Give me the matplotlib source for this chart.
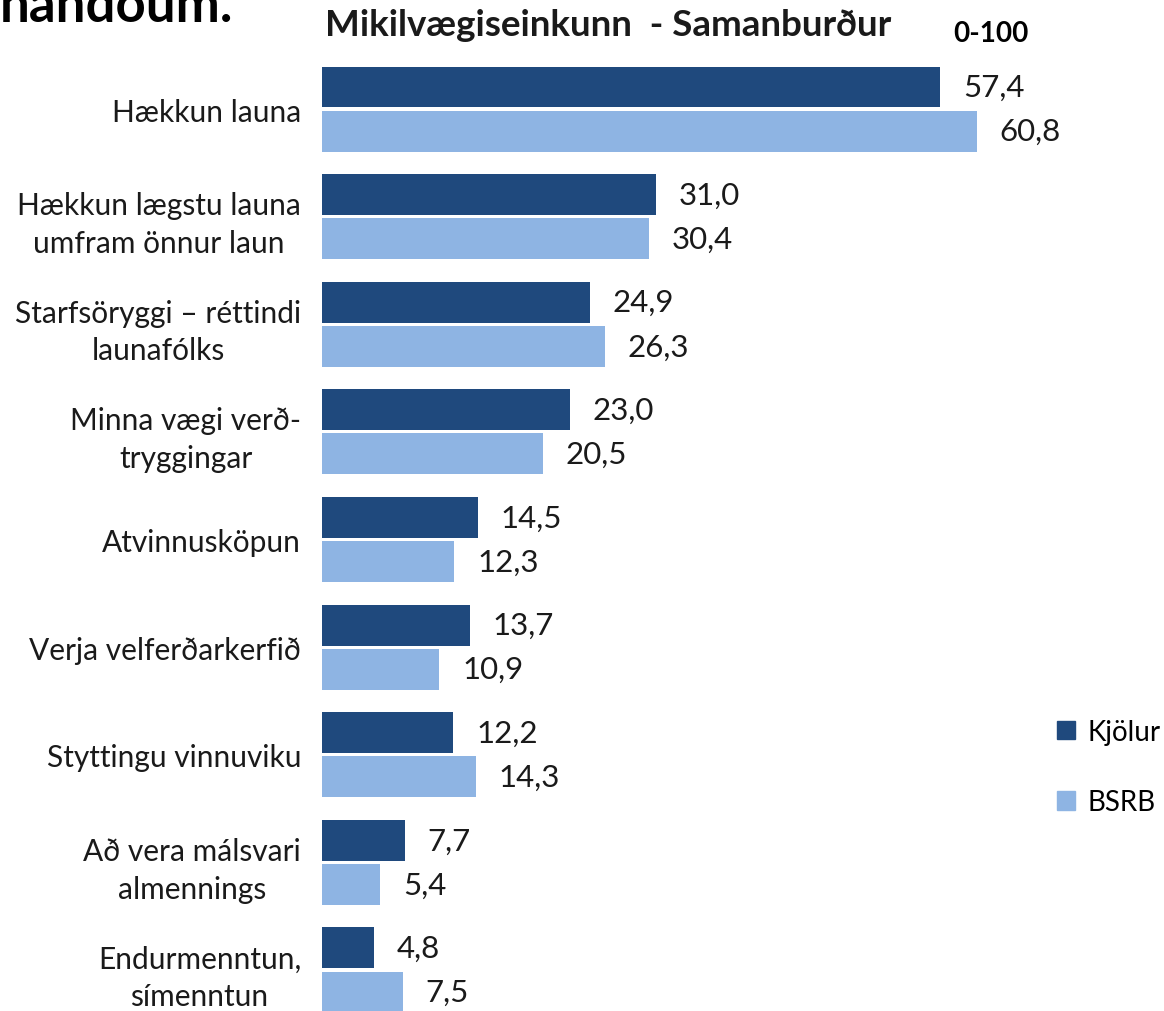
import matplotlib.pyplot as plt
from matplotlib.patches import Patch

# categories and values (0-100 scale)
categories = [
    'Hækkun launa',
    'Hækkun lægstu launa\numfram önnur laun',
    'Starfsöryggi – réttindi\nlaunafólks',
    'Minna vægi verð-\ntryggingar',
    'Atvinnusköpun',
    'Verja velferðarkerfið',
    'Styttingu vinnuviku',
    'Að vera málsvari\nalmennings',
    'Endurmenntun,\nsímenntun',
]
kjolur = [57.4, 31.0, 24.9, 23.0, 14.5, 13.7, 12.2, 7.7, 4.8]
bsrb = [60.8, 30.4, 26.3, 20.5, 12.3, 10.9, 14.3, 5.4, 7.5]
series_names = ['Kjölur', 'BSRB']
colors = ['#1f497d', '#8eb4e3']

plt.rcParams['font.family'] = ['Lato', 'DejaVu Sans']

fig = plt.figure(figsize=(11.64, 10.12), dpi=100)
ax = fig.add_axes([322 / 1164, 0, 842 / 1164, 1])

ypos = list(range(len(categories)))
off = 0.205
h = 0.38
ax.barh([y - off for y in ypos], kjolur, height=h, color=colors[0])
ax.barh([y + off for y in ypos], bsrb, height=h, color=colors[1])

for y, v in zip(ypos, kjolur):
    ax.text(v + 2.1, y - off, f'{v:.1f}'.replace('.', ','), va='center',
            ha='left', fontsize=22.5, color='#1a1a1a')
for y, v in zip(ypos, bsrb):
    ax.text(v + 2.1, y + off, f'{v:.1f}'.replace('.', ','), va='center',
            ha='left', fontsize=22.5, color='#1a1a1a')

ax.set_xlim(0, 842 / 10.77)
ax.set_ylim(8 + 41 / 107.6, -110 / 107.6)
ax.set_yticks(ypos)
ax.set_yticklabels(categories, fontsize=21.5, color='#1a1a1a',
                   multialignment='center', linespacing=1.42)
ax.tick_params(axis='y', length=0, pad=15)
ax.set_xticks([])
for s in ax.spines.values():
    s.set_visible(False)

# title and top texts
fig.text(325 / 1164, 1 - 36 / 1012, 'Mikilvægiseinkunn  - Samanburður',
         fontsize=26.5, fontweight='bold', color='#1a1a1a', va='baseline')
fig.text(953 / 1164, 1 - 42 / 1012, '0-100', fontsize=20,
         fontweight='bold', color='black', va='baseline')
fig.text(0, 1 - 22 / 1012, 'handoum.', fontsize=38,
         fontweight='bold', color='black', va='baseline')

handles = [Patch(color=c) for c in colors]
fig.legend(handles, series_names, loc='center left',
           bbox_to_anchor=(1057 / 1164, 1 - 768 / 1012), frameon=False,
           fontsize=20, handlelength=0.65, handleheight=0.65,
           handletextpad=0.45, labelspacing=1.6, borderpad=0,
           borderaxespad=0)

fig.savefig('out.png', dpi=100)
